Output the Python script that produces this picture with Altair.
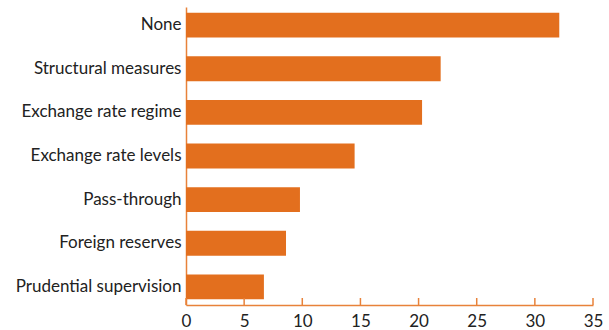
import altair as alt
import pandas as pd

categories = ["None", "Structural measures", "Exchange rate regime",
              "Exchange rate levels", "Pass-through", "Foreign reserves",
              "Prudential supervision"]
values = [32.1, 21.9, 20.3, 14.5, 9.8, 8.6, 6.7]
tick_values = [0, 5, 10, 15, 20, 25, 30, 35]

ORANGE = "#E36F1E"
AXIS_ORANGE = "#E8823A"
FONT = "Lato"

df = pd.DataFrame({"category": categories, "value": values})
tdf = pd.DataFrame({"tick": tick_values})

W, H = 407, 298

xscale = alt.Scale(domain=[0, 35], nice=False)

bars = alt.Chart(df).mark_bar(color=ORANGE).encode(
    x=alt.X("value:Q", scale=xscale,
            axis=alt.Axis(values=tick_values, title=None, grid=False, ticks=False,
                          domainColor=AXIS_ORANGE, domainWidth=1.5,
                          labelFont=FONT, labelFontSize=17, labelColor="#222222",
                          labelPadding=8, labelFlush=False)),
    y=alt.Y("category:N", sort=categories,
            scale=alt.Scale(paddingInner=0.43, paddingOuter=0.13),
            axis=alt.Axis(title=None, ticks=False, grid=False,
                          domainColor=AXIS_ORANGE, domainWidth=1.5,
                          labelFont=FONT, labelFontSize=17, labelColor="#222222",
                          labelPadding=5, labelLimit=0)),
)

ticks = alt.Chart(tdf).mark_rule(color=AXIS_ORANGE, strokeWidth=1.5).encode(
    x=alt.X("tick:Q", scale=xscale),
    y=alt.value(H - 7),
    y2=alt.value(H),
)

chart = alt.layer(bars, ticks).properties(
    width=W, height=H,
    autosize=alt.AutoSizeParams(type="none"),
    padding={"left": 186, "top": 7, "right": 16, "bottom": 25},
).configure_view(stroke=None)

chart.save("out.html", embed_options={"renderer": "svg", "actions": False})
